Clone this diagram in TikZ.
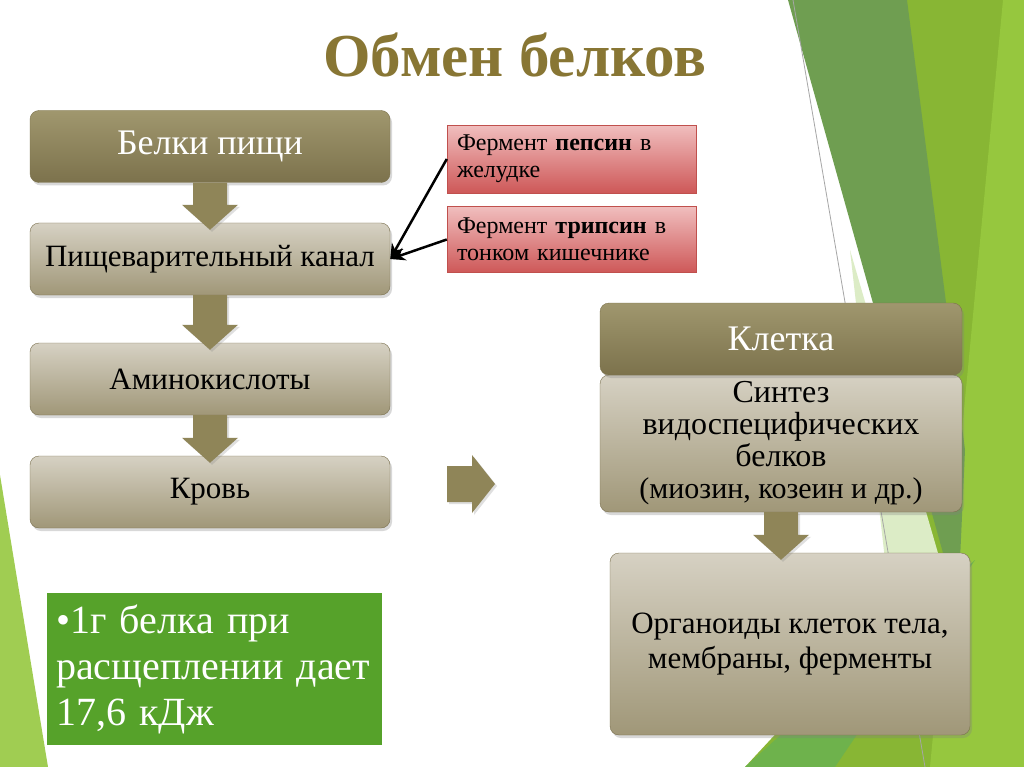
\documentclass[tikz,border=0pt]{standalone}
\usepackage{fontspec}
\setmainfont{Liberation Serif}
\usetikzlibrary{calc,shadows,arrows.meta}

\definecolor{olivetop}{RGB}{160,151,110}
\definecolor{olivebot}{RGB}{124,114,76}
\definecolor{arrowolive}{RGB}{143,133,88}
\definecolor{sandtop}{RGB}{214,209,195}
\definecolor{sandbot}{RGB}{160,151,120}
\definecolor{sandline}{RGB}{122,112,78}
\definecolor{redtop}{RGB}{240,190,190}
\definecolor{redbot}{RGB}{206,88,88}
\definecolor{redline}{RGB}{192,80,77}
\definecolor{leafgreen}{RGB}{86,162,42}
\definecolor{facetleft}{RGB}{160,205,82}
\definecolor{facetdark}{RGB}{111,158,81}
\definecolor{facetmid}{RGB}{136,182,52}
\definecolor{facetlight}{RGB}{150,199,62}
\definecolor{facetlow}{RGB}{110,178,76}
\definecolor{facetpale}{RGB}{220,236,198}
\definecolor{titlegold}{RGB}{136,118,52}

\tikzset{
  box/.style={rectangle, rounded corners=9pt, minimum width=360pt, minimum height=72pt,
    align=center, inner sep=2pt,
    drop shadow={opacity=0.3, shadow xshift=2pt, shadow yshift=-3pt}},
  darkbox/.style={box, draw=olivebot, top color=olivetop, bottom color=olivebot,
    text=white, font=\fontsize{36}{40}\selectfont},
  lightbox/.style={box, draw=sandline, top color=sandtop, bottom color=sandbot,
    font=\fontsize{31}{35}\selectfont},
  enzyme/.style={rectangle, draw=redline, top color=redtop, bottom color=redbot,
    minimum width=249pt, minimum height=66pt, inner sep=10pt, text width=229pt,
    align=left, font=\fontsize{24}{27}\selectfont},
  fatarr/.style={fill=arrowolive,
    drop shadow={opacity=0.25, shadow xshift=2pt, shadow yshift=-2pt}},
  pointer/.style={line width=2.5pt, -{Stealth[length=15pt,width=13pt]}},
}

% thick block arrow going down from one box into the next
\newcommand\fatdown[2]{%
  \path ($(#1.south |- #2.north)+(0,7)$) coordinate (tip);
  \fill[fatarr] ($(#1.south)+(-17,0)$) -- ($(tip)+(-17,-25)$) -- ($(tip)+(-28,-25)$)
    -- (tip) -- ($(tip)+(28,-25)$) -- ($(tip)+(17,-25)$) -- ($(#1.south)+(17,0)$) -- cycle;}

\begin{document}
\begin{tikzpicture}[x=1pt,y=-1pt]
	%%%%% START %%%%%
	\useasboundingbox (0,0) rectangle (1024,767);
	\fill[white] (0,0) rectangle (1024,767);

	% green facets of the slide
	\fill[facetleft] (0,475) -- (48,767) -- (0,767) -- cycle;
	\fill[facetmid] (900,0) -- (1024,0) -- (1024,767) -- (745,767) -- (900,600) -- cycle;
	\fill[facetlight] (1003,0) -- (1024,0) -- (1024,767) -- (930,767) -- cycle;
	\fill[facetdark] (788,0) -- (907,0) -- (965,450) -- (960,560) -- (945,560) -- cycle;
	\fill[facetpale] (850,250) -- (940,560) -- (885,560) -- cycle;
	\fill[facetlow] (745,767) -- (835,767) -- (975,560) -- cycle;
	\draw[gray!70, line width=0.8pt] (793,0) -- (925,767);

	\node[font=\bfseries\fontsize{61}{64}\selectfont, text=titlegold] (title) at (515,55) {Обмен белков};

	% digestion chain
	\node[darkbox] (beli) at (210,146.5) {Белки пищи};
	\node[lightbox] (canal) at (210,259) {Пищеварительный канал};
	\node[lightbox] (amino) at (210,379) {Аминокислоты};
	\node[lightbox] (krov) at (210,492) {Кровь};

	\fatdown{beli}{canal}
	\fatdown{canal}{amino}
	\fatdown{amino}{krov}

	% enzymes
	\node[enzyme] (pepsin) at (571.5,159) {Фермент \textbf{пепсин} в\\желудке};
	\node[enzyme] (tripsin) at (571.5,239.5) {Фермент \textbf{трипсин} в\\тонком кишечнике};
	\draw[pointer] (pepsin.west) -- (canal.east);
	\draw[pointer] (tripsin.west) -- (canal.east);

	% into the cell
	\coordinate (go) at (472,484);
	\fill[fatarr] ($(go)+(-25,-18)$) -- ($(go)+(0,-18)$) -- ($(go)+(0,-29)$) -- ($(go)+(23,0)$)
		-- ($(go)+(0,29)$) -- ($(go)+(0,18)$) -- ($(go)+(-25,18)$) -- cycle;

	\node[lightbox, minimum width=362pt, minimum height=137pt, font=\fontsize{32}{32}\selectfont] (sintez) at (781,443.5)
		{Синтез\\видоспецифических\\белков\\{\fontsize{30}{32}\selectfont(миозин, козеин и др.)}};
	\node[darkbox, minimum width=362pt] (kletka) at (781,339) {Клетка};
	\node[lightbox, minimum height=182pt] (organ) at (790,644) {Органоиды клеток тела,\\мембраны, ферменты};
	\fatdown{sintez}{organ}

	% energy note
	\node[fill=leafgreen, minimum width=335pt, minimum height=152pt, inner sep=9pt, text width=317pt,
		align=left, text=white, font=\fontsize{40}{46}\selectfont] (energy) at (214.5,669)
		{\textbullet 1г белка при\\расщеплении дает\\17,6 кДж};
	%%%%% END %%%%%
\end{tikzpicture}
\end{document}
